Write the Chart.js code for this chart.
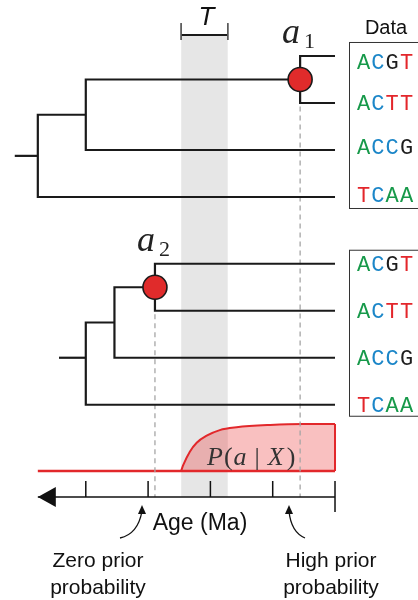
<!DOCTYPE html>
<html>
<head>
<meta charset="utf-8">
<style>
  html, body { margin: 0; padding: 0; background: #fff; }
  #chart { display: block; }
</style>
<script src="https://cdn.jsdelivr.net/npm/chart.js@4.4.1/dist/chart.umd.min.js"></script>
</head>
<body>
<canvas id="chart" width="418" height="600"></canvas>
<script>
// ages in Ma (0 = tips), ticks every 1 Ma
const tickAges = [0, 1, 2, 3, 4];
const axisStartAge = 4.77;
const calibWindow = [2.47, 1.72]; // T: older bound, younger bound

// sequences at the tips (both trees)
const tipSeqs = ['ACGT', 'ACTT', 'ACCG', 'TCAA'];
const baseColors = { A: '#17994a', C: '#1b86c8', G: '#1d1d1d', T: '#e3262b' };

// tree 1: (((t1,t2)a1,t3),t4) -> stub start, root, inner node, a1
const tree1Ages = [5.14, 4.77, 4.0, 0.56];
const tree1Tips = [0, 1, 2, 3];
// tree 2: same topology, a2 is older
const tree2Ages = [4.43, 4.0, 3.54, 2.89];
const tree2Tips = [4.42, 5.42, 6.42, 7.42];

// posterior density P(a | X)
const densAge = [2.47, 2.435, 2.33, 2.22, 2.06, 1.85, 1.58, 1.04, 0.51, 0];
const densVal = [0, 0.13, 0.41, 0.60, 0.75, 0.87, 0.93, 0.98, 1.0, 1.0];

// vertical layout (lanes)
const axisLane = 9.383;
const bandTop = -0.43;

const RED = '#e2282b';
const datasets = [];

function addLine(points, style, yAxisID) {
    datasets.push(Object.assign({
        data: points.map(p => ({ x: p[0], y: p[1] })),
        showLine: true,
        pointRadius: 0,
        borderWidth: 2.2,
        borderColor: '#1a1a1a',
        borderJoinStyle: 'miter',
        borderCapStyle: 'butt',
        fill: false,
        clip: false,
        yAxisID: yAxisID || 'y',
        order: -datasets.length
    }, style));
}

function treePaths(ages, tips, stubLane) {
    const [stub, root, inner, cherry] = ages;
    const cherryLane = (tips[0] + tips[1]) / 2;
    const innerLane = (cherryLane + tips[2]) / 2;
    const rootLane = stubLane !== undefined ? stubLane : (innerLane + tips[3]) / 2;
    return {
        node: [cherry, cherryLane],
        paths: [
            [[0, tips[0]], [cherry, tips[0]], [cherry, tips[1]], [0, tips[1]]],
            [[cherry, cherryLane], [inner, cherryLane], [inner, tips[2]], [0, tips[2]]],
            [[inner, innerLane], [root, innerLane], [root, tips[3]], [0, tips[3]]],
            [[stub, rootLane], [root, rootLane]]
        ]
    };
}

const t1 = treePaths(tree1Ages, tree1Tips);
const t2 = treePaths(tree2Ages, tree2Tips, tree2Tips[2]);

// grey calibration band
addLine([[calibWindow[0], bandTop], [calibWindow[1], bandTop]], {
    borderWidth: 0, borderColor: 'rgba(0,0,0,0)', backgroundColor: '#e6e6e6',
    fill: { value: axisLane }
});

// density fill + outline
addLine(densAge.map((a, i) => [a, densVal[i]]), {
    borderColor: RED, borderWidth: 2, backgroundColor: 'rgba(235,60,60,0.32)',
    fill: 'origin', cubicInterpolationMode: 'monotone', borderJoinStyle: 'round'
}, 'yD');
addLine([[axisStartAge, 0], [0, 0]], { borderColor: RED, borderWidth: 2.4 }, 'yD');
addLine([[0, densVal[densVal.length - 1]], [0, 0]], { borderColor: RED, borderWidth: 2 }, 'yD');

// dashed guides from a1 / a2 to the axis
[t1.node, t2.node].forEach(n => {
    addLine([[n[0], n[1]], [n[0], axisLane]], {
        borderColor: '#a5a5a5', borderWidth: 1.3, borderDash: [5, 4]
    });
});

// tree branches
t1.paths.concat(t2.paths).forEach(p => addLine(p, {}));

// T bracket
addLine([[calibWindow[0], -0.447], [calibWindow[1], -0.447]], { borderWidth: 2 });
calibWindow.forEach(a => addLine([[a, -0.70], [a, -0.34]], { borderWidth: 1, borderColor: '#555' }));

// age axis
addLine([[axisStartAge, axisLane], [0, axisLane]], { borderWidth: 1.5, borderColor: '#111' });
tickAges.forEach(a => addLine([[a, 9.04], [a, a === 0 ? 9.70 : axisLane]], { borderWidth: 1.5, borderColor: '#111' }));

// a1 / a2 nodes
datasets.push({
    data: [t1.node, t2.node].map(n => ({ x: n[0], y: n[1] })),
    showLine: false,
    pointRadius: 12,
    pointBackgroundColor: '#e02b2b',
    pointBorderColor: '#1a1a1a',
    pointBorderWidth: 1.6,
    clip: false,
    yAxisID: 'y',
    order: -datasets.length
});

const annotations = {
    id: 'annotations',
    afterDraw(chart) {
        const ctx = chart.ctx;
        const xs = chart.scales.x, ys = chart.scales.y;
        const px = a => xs.getPixelForValue(a);
        const py = l => ys.getPixelForValue(l);
        ctx.save();

        // axis arrow head
        const ax = px(axisStartAge), ay = py(axisLane);
        ctx.fillStyle = '#111';
        ctx.beginPath();
        ctx.moveTo(ax, ay);
        ctx.lineTo(ax + 18, ay - 10);
        ctx.lineTo(ax + 18, ay + 10);
        ctx.closePath();
        ctx.fill();

        // data boxes with sequences
        [[tree1Tips, [6, 0, -3, -2]], [tree2Tips, [0, 0, 0, 0]]].forEach(([tips, nudge]) => {
            const top = py(tips[0]) - 14, bottom = py(tips[3]) + 11;
            ctx.strokeStyle = '#333';
            ctx.lineWidth = 1;
            ctx.strokeRect(349.5, top + 0.5, 80, bottom - top);
            ctx.font = '22px "Liberation Mono", monospace';
            ctx.textBaseline = 'middle';
            ctx.textAlign = 'left';
            tipSeqs.forEach((seq, i) => {
                [...seq].forEach((ch, j) => {
                    ctx.fillStyle = baseColors[ch];
                    ctx.fillText(ch, 357 + j * 14.3, py(tips[i]) + nudge[i] + 1);
                });
            });
        });

        ctx.fillStyle = '#111';
        ctx.textBaseline = 'alphabetic';
        ctx.textAlign = 'center';
        ctx.font = '20px "Liberation Sans", Arial, sans-serif';
        ctx.fillText('Data', 386, 34);

        ctx.font = 'italic 26px "Liberation Sans", Arial, sans-serif';
        ctx.fillText('T', (px(calibWindow[0]) + px(calibWindow[1])) / 2 + 2, 25);

        // node labels
        ctx.textAlign = 'left';
        [[t1.node, '1'], [t2.node, '2']].forEach(([n, sub]) => {
            const cx = px(n[0]), cy = py(n[1]);
            ctx.fillStyle = '#222';
            ctx.font = 'italic 36px "Liberation Serif", serif';
            ctx.fillText('a', cx - 18, cy - 36);
            ctx.font = '22px "Liberation Serif", serif';
            ctx.fillText(sub, cx + 4, cy - 31);
        });

        // P(a | X)
        const parts = [['P', true, 0], ['(', false, 1], ['a', true, 1], ['|', false, 8], ['X', true, 8], [')', false, 3]];
        let x = 207;
        ctx.fillStyle = '#333';
        parts.forEach(([s, it, gap]) => {
            x += gap;
            ctx.font = (it ? 'italic ' : '') + '26px "Liberation Serif", serif';
            ctx.fillText(s, x, 465);
            x += ctx.measureText(s).width;
        });

        // axis title and notes
        ctx.fillStyle = '#111';
        ctx.textAlign = 'center';
        ctx.font = '23px "Liberation Sans", Arial, sans-serif';
        ctx.fillText('Age (Ma)', 200, 530);
        ctx.font = '21px "Liberation Sans", Arial, sans-serif';
        ctx.fillText('Zero prior', 98, 567);
        ctx.fillText('probability', 98, 594);
        ctx.fillText('High prior', 331, 567);
        ctx.fillText('probability', 331, 594);

        // curved pointers
        [[120, 538, 138, 534, 142, 507], [305, 538, 291, 532, 289, 507]].forEach(([x0, y0, cx, cy, x1, y1]) => {
            ctx.strokeStyle = '#111';
            ctx.lineWidth = 1.3;
            ctx.beginPath();
            ctx.moveTo(x0, y0);
            ctx.quadraticCurveTo(cx, cy, x1, y1 + 4);
            ctx.stroke();
            ctx.beginPath();
            ctx.moveTo(x1, y1 - 2);
            ctx.lineTo(x1 - 4, y1 + 7);
            ctx.lineTo(x1 + 4, y1 + 7);
            ctx.closePath();
            ctx.fill();
        });

        ctx.restore();
    }
};

new Chart(document.getElementById('chart'), {
    type: 'scatter',
    data: { datasets: datasets },
    options: {
        responsive: false,
        devicePixelRatio: 1,
        animation: false,
        events: [],
        layout: { padding: 0, autoPadding: false },
        plugins: { legend: { display: false }, tooltip: { enabled: false } },
        scales: {
            x: { type: 'linear', reverse: true, min: -1.332, max: 5.377, display: false },
            y: { type: 'linear', reverse: true, min: -1.191, max: 11.574, display: false },
            yD: { type: 'linear', min: -2.745, max: 10.021, display: false }
        }
    },
    plugins: [annotations]
});
</script>
</body>
</html>
